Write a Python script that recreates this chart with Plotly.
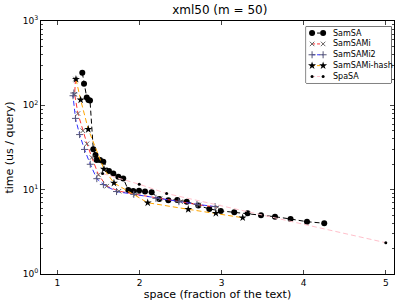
import plotly.graph_objects as go

# ---- data ----
samsa_x = [1.303, 1.324, 1.357, 1.378, 1.397, 1.437, 1.464, 1.478, 1.519, 1.559, 1.628, 1.681,
           1.742, 1.802, 1.863, 1.924, 1.994, 2.067, 2.148, 2.241, 2.351, 2.46, 2.575, 2.716,
           2.85, 2.99, 3.154, 3.317, 3.48, 3.65, 3.84, 4.04, 4.25]
samsa_y = [244, 180, 124, 116, 114, 30.1, 25.8, 22.5, 22.5, 21.5, 16.7, 15.6,
           14.2, 13.6, 9.9, 9.65, 9.7, 9.5, 9.3, 7.76, 7.5, 7.55, 7.2, 6.5,
           5.9, 5.6, 5.4, 5.25, 4.97, 4.78, 4.49, 4.17, 4.0]

samsami_x = [1.22, 1.21, 1.25, 1.31, 1.36, 1.42, 1.50, 1.60, 1.75, 1.95, 2.25, 2.50, 2.72, 2.95]
samsami_y = [205, 135, 80, 50, 35, 24, 15, 11, 9.6, 8.8, 7.8, 7.2, 6.6, 6.2]

samsami2_x = [1.20, 1.19, 1.22, 1.27, 1.33, 1.40, 1.48, 1.56, 1.72, 1.93, 2.20, 2.48, 2.70, 2.92]
samsami2_y = [140, 130, 70, 45, 30, 20, 13.5, 11.5, 9.5, 8.8, 7.9, 7.2, 6.7, 6.3]

hash_x = [1.226, 1.283, 1.376, 1.567, 1.689, 2.10, 2.594, 2.93, 3.257]
hash_y = [204, 116, 52, 17.5, 12.0, 7.0, 5.85, 5.25, 4.65]

spasa_x = [1.55, 1.997, 2.33, 5.0]
spasa_y = [15.5, 11.6, 9.0, 2.35]

series_names = ["SamSA", "SamSAMi", "SamSAMi2", "SamSAMi-hash", "SpaSA"]

x_ticks = [1, 2, 3, 4, 5]
y_alias = {1: "10<sup>0</sup>", 10: "10<sup>1</sup>", 100: "10<sup>2</sup>", 1000: "10<sup>3</sup>"}

FONT = "DejaVu Sans"
DASH = "5px,3px"

styles = [
    dict(line=dict(color="black", dash=DASH, width=1),
         marker=dict(symbol="circle", size=6, color="black")),
    dict(line=dict(color="#ff3333", dash=DASH, width=1),
         marker=dict(symbol="x-thin", size=4.5, color="#666666", line=dict(width=1, color="#666666"))),
    dict(line=dict(color="#3333ff", dash=DASH, width=1),
         marker=dict(symbol="cross-thin", size=5, color="#555577", line=dict(width=1, color="#555577"))),
    dict(line=dict(color="orange", dash=DASH, width=1),
         marker=dict(symbol="star", size=6, color="black")),
    dict(line=dict(color="pink", dash=DASH, width=1),
         marker=dict(symbol="circle", size=3, color="black")),
]
series = [(samsa_x, samsa_y), (samsami_x, samsami_y), (samsami2_x, samsami2_y),
          (hash_x, hash_y), (spasa_x, spasa_y)]

fig = go.Figure()
for name, (xs, ys), st in zip(series_names, series, styles):
    fig.add_trace(go.Scatter(x=xs, y=ys, name=name, mode="lines+markers",
                             showlegend=False, **st))

# ---- legend box (matplotlib style: two markers joined by the line) ----
# drawn in its own small axes laid over the top-right of the plot
for i, (name, st) in enumerate(zip(series_names, styles)):
    row = i + 0.5
    fig.add_trace(go.Scatter(x=[0.07, 0.2], y=[row, row], mode="lines+markers",
                             xaxis="x2", yaxis="y2", showlegend=False, hoverinfo="skip",
                             line=dict(color=st["line"]["color"], width=1, dash="3px,2px"),
                             marker=st["marker"]))
    fig.add_annotation(x=0.29, y=row, xref="x2", yref="y2", text=name, showarrow=False,
                       xanchor="left", yanchor="middle", font=dict(size=8))
fig.add_shape(type="rect", xref="x2 domain", yref="y2 domain", x0=0, x1=1, y0=0, y1=1,
              line=dict(color="black", width=1), fillcolor="white", layer="below")

fig.update_layout(
    width=407, height=305,
    margin=dict(l=41, r=13, t=21, b=31, autoexpand=False),
    paper_bgcolor="white", plot_bgcolor="white",
    font=dict(family=FONT, size=9, color="black"),
    title=dict(text="xml50 (m = 50)", x=0.54, xanchor="center", y=0.967, yanchor="middle",
               yref="container", font=dict(size=12)),
    showlegend=False,
    xaxis=dict(range=[0.8, 5.1], tickvals=x_ticks, ticks="inside", ticklen=4,
               mirror="allticks", showline=True, linecolor="black", linewidth=1,
               showgrid=False, zeroline=False,
               title=dict(text="space (fraction of the text)", standoff=2)),
    yaxis=dict(type="log", range=[0, 3], dtick=1, ticks="inside", ticklen=4,
               labelalias=y_alias,
               minor=dict(dtick="D1", ticks="inside", ticklen=2, showgrid=False),
               mirror="allticks", showline=True, linecolor="black", linewidth=1,
               showgrid=False, zeroline=False,
               title=dict(text="time (us / query)", standoff=6)),
    xaxis2=dict(domain=[0.751, 0.992], range=[0, 1], anchor="y2", visible=False, fixedrange=True),
    yaxis2=dict(domain=[0.755, 0.978], range=[5.1, -0.1], anchor="x2", visible=False, fixedrange=True),
)

fig.write_html("out.html", config={"displayModeBar": False},
               post_script="document.body.style.margin='0px';")
